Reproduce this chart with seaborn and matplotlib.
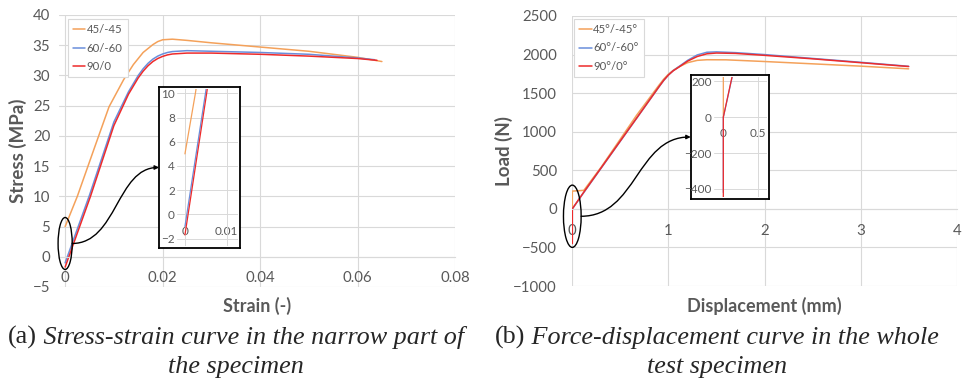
import numpy as np
import pandas as pd
import seaborn as sns
import matplotlib
matplotlib.use("Agg")
import matplotlib.pyplot as plt
from matplotlib.patches import Ellipse, FancyArrowPatch
from matplotlib.path import Path

# ---------------- data ----------------
series_a = ["45/-45", "60/-60", "90/0"]
series_b = ["45°/-45°", "60°/-60°", "90°/0°"]
colors = ["#F4A15A", "#6A8EDB", "#EE2B2B"]

strain_45 = [0, 0.0025, 0.006, 0.009, 0.012, 0.014, 0.016, 0.018, 0.019, 0.020, 0.022, 0.025,
             0.030, 0.040, 0.050, 0.060, 0.065]
stress_45 = [5.0, 10.0, 18.0, 24.8, 29.3, 31.8, 33.8, 35.1, 35.6, 35.9, 36.0, 35.8,
             35.4, 34.7, 34.0, 33.0, 32.3]
strain_60 = [0, 0.005, 0.010, 0.013, 0.015, 0.016, 0.017, 0.018, 0.019, 0.020, 0.021, 0.022,
             0.025, 0.030, 0.040, 0.050, 0.060, 0.0635]
stress_60 = [-1.0, 10.2, 22.3, 27.3, 30.0, 31.1, 32.0, 32.7, 33.2, 33.55, 33.8, 33.95,
             34.1, 34.0, 33.8, 33.5, 32.9, 32.6]
strain_90 = [0, 0.0052, 0.010, 0.013, 0.015, 0.016, 0.017, 0.018, 0.019, 0.020, 0.021, 0.022,
             0.025, 0.030, 0.040, 0.050, 0.060, 0.064]
stress_90 = [-1.7, 10.0, 21.7, 26.9, 29.6, 30.7, 31.6, 32.3, 32.8, 33.15, 33.4, 33.55,
             33.7, 33.7, 33.5, 33.2, 32.8, 32.5]

disp_45 = [0, 0, 0.12, 0.30, 0.67, 0.90, 0.95, 1.00, 1.05, 1.10, 1.20, 1.30, 1.40, 1.60,
           2.00, 2.50, 3.00, 3.50]
load_45 = [0, 230, 240, 540, 1215, 1600, 1680, 1745, 1795, 1835, 1895, 1925, 1933, 1932,
           1910, 1880, 1850, 1815]
disp_60 = [0, 0, 0.11, 0.67, 0.90, 0.95, 1.00, 1.05, 1.10, 1.20, 1.30, 1.40, 1.50, 1.70,
           2.00, 2.50, 3.00, 3.50]
load_60 = [-420, 0, 195, 1175, 1578, 1662, 1735, 1792, 1836, 1925, 1995, 2030, 2035, 2025,
           2000, 1950, 1900, 1848]
disp_90 = [0, 0, 0.11, 0.67, 0.90, 0.95, 1.00, 1.05, 1.10, 1.20, 1.30, 1.40, 1.50, 1.70,
           2.00, 2.50, 3.00, 3.50]
load_90 = [-450, 0, 200, 1178, 1580, 1665, 1735, 1790, 1830, 1915, 1975, 2010, 2020, 2015,
           1990, 1945, 1895, 1845]

xticks_a = [0, 0.02, 0.04, 0.06, 0.08]
xticklabels_a = ["0", "0.02", "0.04", "0.06", "0.08"]
yticks_a = [-5, 0, 5, 10, 15, 20, 25, 30, 35, 40]
xticks_b = [0, 1, 2, 3, 4]
yticks_b = [-1000, -500, 0, 500, 1000, 1500, 2000, 2500]
inset_xticks_a = [0, 0.01]
inset_xticklabels_a = ["0", "0.01"]
inset_yticks_a = [-2, 0, 2, 4, 6, 8, 10]
inset_xticks_b = [0, 0.5]
inset_xticklabels_b = ["0", "0.5"]
inset_yticks_b = [-400, -200, 0, 200]

caption_a = ("(a)", " Stress-strain curve in the narrow part of", "the specimen")
caption_b = ("(b)", " Force-displacement curve in the whole", "test specimen")

# ---------------- frames ----------------
def make_df(xs, ys, names):
    rows = []
    for x, y, n in zip(xs, ys, names):
        for i, (a, b) in enumerate(zip(x, y)):
            rows.append({"x": a, "y": b, "series": n, "i": i})
    return pd.DataFrame(rows)

df_a = make_df([strain_45, strain_60, strain_90], [stress_45, stress_60, stress_90], series_a)
df_b = make_df([disp_45, disp_60, disp_90], [load_45, load_60, load_90], series_b)

sns.set_style("white")
plt.rcParams["font.family"] = ["Lato", "DejaVu Sans"]

W, H = 966, 384
fig = plt.figure(figsize=(W / 100, H / 100), dpi=100)
fig.patch.set_facecolor("white")

GRID = "#D9D9D9"
TXT = "#595959"

def px_rect(x0, y0, x1, y1):
    return [x0 / W, (H - y1) / H, (x1 - x0) / W, (y1 - y0) / H]

def draw_lines(ax, df, pal_names, lw=1.1):
    sns.lineplot(data=df, x="x", y="y", hue="series", hue_order=pal_names,
                 palette=dict(zip(pal_names, colors)), sort=False, estimator=None,
                 legend=False, ax=ax, lw=lw)

def style_main(ax, xlim, ylim, xticks, yticks, xlabels=None, xpad=10, ypad=7):
    ax.set_xlim(*xlim)
    ax.set_ylim(*ylim)
    ax.set_xticks(xticks)
    if xlabels is not None:
        ax.set_xticklabels(xlabels)
    ax.set_yticks(yticks)
    ax.grid(True, color=GRID, lw=0.8)
    for s in ["top", "right", "left"]:
        ax.spines[s].set_visible(False)
    ax.spines["bottom"].set_position(("data", 0))
    ax.spines["bottom"].set_color(GRID)
    ax.spines["bottom"].set_linewidth(0.8)
    ax.tick_params(axis="x", length=0, pad=xpad, labelsize=10.8, labelcolor=TXT)
    ax.tick_params(axis="y", length=0, pad=ypad, labelsize=10.8, labelcolor=TXT)
    ax.set_axisbelow(True)

# ---------------- left chart ----------------
ax1 = fig.add_axes(px_rect(59.3, 15, 455, 287))
draw_lines(ax1, df_a, series_a)
style_main(ax1, (-0.0012, 0.08), (-5, 40), xticks_a, yticks_a, xticklabels_a, xpad=10, ypad=6.5)
ax1.set_xlabel("Strain (-)", fontsize=13, fontweight="bold", color=TXT)
ax1.set_ylabel("Stress (MPa)", fontsize=13.5, fontweight="bold", color=TXT)
ax1.xaxis.set_label_coords(0.5, -0.035)
ax1.yaxis.set_label_coords(-0.082, 0.5)
leg1 = ax1.legend(handles=ax1.get_lines()[:3], labels=series_a, loc="upper left",
                  bbox_to_anchor=(0.021, 0.985), borderaxespad=0, fontsize=8.2,
                  handlelength=1.1, handletextpad=0.12, labelspacing=0.65, borderpad=0.45,
                  fancybox=False, framealpha=1, edgecolor=GRID, labelcolor=TXT)
leg1.get_frame().set_linewidth(0.8)

# ---------------- right chart ----------------
ax2 = fig.add_axes(px_rect(572.3, 16, 956.7, 286))
draw_lines(ax2, df_b, series_b)
style_main(ax2, (0, 4), (-1000, 2500), xticks_b, yticks_b, xpad=11, ypad=11)
ax2.set_xlabel("Displacement (mm)", fontsize=13, fontweight="bold", color=TXT)
ax2.set_ylabel("Load (N)", fontsize=13.5, fontweight="bold", color=TXT)
ax2.xaxis.set_label_coords(0.5, -0.04)
ax2.yaxis.set_label_coords(-0.154, 0.5)
leg2 = ax2.legend(handles=ax2.get_lines()[:3], labels=series_b, loc="upper left",
                  bbox_to_anchor=(0.005, 0.989), borderaxespad=0, fontsize=8.2,
                  handlelength=1.1, handletextpad=0.12, labelspacing=0.65, borderpad=0.45,
                  fancybox=False, framealpha=1, edgecolor=GRID, labelcolor=TXT)
leg2.get_frame().set_linewidth(0.8)

# ---------------- insets ----------------
def make_inset(box_px, inner_px, df, names, xlim, ylim, xt, xtl, yt):
    box = fig.add_axes(px_rect(*box_px))
    box.set_xticks([]); box.set_yticks([])
    box.set_facecolor("white")
    for s in box.spines.values():
        s.set_color("black"); s.set_linewidth(1.3)
    box.set_zorder(5)
    inner = fig.add_axes(px_rect(*inner_px))
    inner.set_zorder(6)
    inner.patch.set_alpha(0)
    draw_lines(inner, df, names, lw=0.9)
    inner.set_xlim(*xlim); inner.set_ylim(*ylim)
    inner.set_yticks(yt)
    inner.set_xticks(xt)
    inner.set_xticklabels([])
    inner.grid(True, color=GRID, lw=0.7)
    for s in inner.spines.values():
        s.set_visible(False)
    inner.tick_params(axis="both", length=0, labelsize=8.5, labelcolor=TXT, pad=1.5)
    inner.set_xlabel(""); inner.set_ylabel("")
    frac0 = (0 - ylim[0]) / (ylim[1] - ylim[0])
    sec = inner.secondary_xaxis(frac0)
    sec.set_alignment("bottom")
    sec.set_xticks(xt)
    sec.set_xticklabels(xtl)
    sec.tick_params(length=0, labelsize=8.5, labelcolor=TXT, pad=8)
    for s in sec.spines.values():
        s.set_visible(False)
    return box, inner

box1, in1 = make_inset((159, 87, 240, 248), (177, 89, 238, 246), df_a, series_a,
                       (-0.0019, 0.0127), (-2.61, 10.36),
                       inset_xticks_a, inset_xticklabels_a, inset_yticks_a)
box2, in2 = make_inset((690.7, 75.3, 768.7, 198.7), (714, 77, 767, 197), df_b, series_b,
                       (-0.133, 0.624), (-445, 225),
                       inset_xticks_b, inset_xticklabels_b, inset_yticks_b)

# ---------------- callouts ----------------
e1 = Ellipse((0.0, 2.2), 0.0029, 8.6, fill=False, edgecolor="black", lw=1.0, clip_on=False, zorder=4)
ax1.add_patch(e1)
e2 = Ellipse((0.0, -96), 0.184, 807, fill=False, edgecolor="black", lw=1.0, clip_on=False, zorder=4)
ax2.add_patch(e2)

inv = fig.transFigure.inverted()

def connector(ax, start, mid_x, box):
    p0 = ax.transData.transform(start)
    p3 = box.transAxes.transform((0.0, 0.5))
    mx = ax.transData.transform((mid_x, 0))[0]
    verts = [p0, (mx, p0[1]), (mx, p3[1]), p3]
    verts = inv.transform(verts)
    path = Path(verts, [Path.MOVETO, Path.CURVE4, Path.CURVE4, Path.CURVE4])
    arr = FancyArrowPatch(path=path, arrowstyle="-|>", mutation_scale=6, lw=1.0,
                          color="black", transform=fig.transFigure, zorder=7)
    fig.add_artist(arr)

connector(ax1, (0.00145, 2.2), 0.0106, box1)
connector(ax2, (0.092, -96), 0.67, box2)

# ---------------- captions ----------------
renderer = fig.canvas.get_renderer()
CAP_FS = 18.8

def caption(cx, y1, y2, parts):
    t1 = fig.text(0, y1, parts[0], fontsize=CAP_FS, family="Liberation Serif", va="baseline")
    t2 = fig.text(0, y1, parts[1], fontsize=CAP_FS, family="Liberation Serif", style="italic", va="baseline")
    w1 = t1.get_window_extent(renderer).width
    w2 = t2.get_window_extent(renderer).width
    x0 = cx - (w1 + w2) / 2
    t1.set_x(x0 / W)
    t2.set_x((x0 + w1) / W)
    fig.text(cx / W, y2, parts[2], fontsize=CAP_FS, family="Liberation Serif", style="italic",
             va="baseline", ha="center")

caption(236, (H - 344) / H, (H - 373) / H, caption_a)
caption(717, (H - 344) / H, (H - 373) / H, caption_b)

fig.savefig("out.png", dpi=100, facecolor="white")
